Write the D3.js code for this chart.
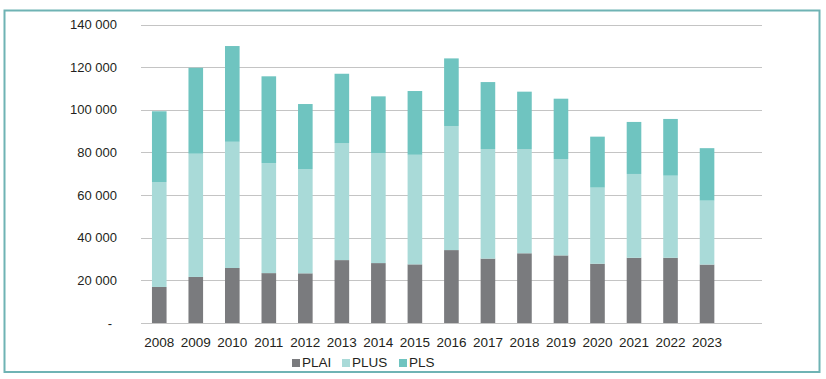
<!DOCTYPE html>
<html><head><meta charset="utf-8">
<script src="https://cdn.jsdelivr.net/npm/d3@7"></script>
<style>html,body{margin:0;padding:0;background:#fff;}svg{display:block;}</style>
</head><body>
<svg id="c" width="826" height="379"></svg>
<script>
const years = ["2008","2009","2010","2011","2012","2013","2014","2015","2016","2017","2018","2019","2020","2021","2022","2023"];
const plai = [16900,21600,25800,23400,23300,29500,28100,27500,34200,30200,32700,31700,27800,30600,30600,27400];
const plus = [49200,57800,59200,51600,48900,54900,51600,51400,58200,51400,48900,45200,35700,39300,38500,30000];
const pls  = [33200,40300,44900,40700,30500,32500,26600,29900,31700,31400,26900,28300,23900,24400,26600,24600];
const seriesNames = ["PLAI","PLUS","PLS"];
const colors = ["#7a7b7e","#a9dad8","#6fc4c0"];
const yTicks = [0,20000,40000,60000,80000,100000,120000,140000];

const svg = d3.select("#c");
const font = "'Liberation Sans', Arial, sans-serif";

// frame
svg.append("rect").attr("x",4.5).attr("y",10.5).attr("width",815).attr("height",361.5)
  .attr("fill","none").attr("stroke","#6fb3b4").attr("stroke-width",2);

const x = d3.scaleBand().domain(years).range([141,725.3]).paddingInner(0.6).paddingOuter(0.3);
const y = d3.scaleLinear().domain([0,140000]).range([323,24.5]);

// gridlines
svg.append("g").selectAll("line").data(yTicks).join("line")
  .attr("x1",141).attr("x2",762)
  .attr("y1",d=>Math.round(y(d))+0.5).attr("y2",d=>Math.round(y(d))+0.5)
  .attr("stroke","#c4c4c4").attr("stroke-width",1);

// y labels
const fmt = d => d===0 ? "-" : d3.format(",")(d).replace(/,/g,"\u2009");
svg.append("g").selectAll("text").data(yTicks).join("text")
  .attr("x",d=> d===0 ? 112 : 117).attr("y",d=>y(d)+4.5)
  .attr("text-anchor","end").attr("font-family",font).attr("font-size",13)
  .attr("fill","#231f20").text(d=>fmt(d).replace("\u2009"," "));

// stacked data
const rows = years.map((yr,i)=>({year:yr, PLAI:plai[i], PLUS:plus[i], PLS:pls[i]}));
const stack = d3.stack().keys(seriesNames)(rows);
svg.append("g").selectAll("g").data(stack).join("g")
  .attr("fill",(d,i)=>colors[i])
  .selectAll("rect").data(d=>d).join("rect")
  .attr("x",d=>x(d.data.year)).attr("width",x.bandwidth())
  .attr("y",d=>y(d[1])).attr("height",d=>y(d[0])-y(d[1]));

// x labels
svg.append("g").selectAll("text").data(years).join("text")
  .attr("x",d=>x(d)+x.bandwidth()/2).attr("y",347)
  .attr("text-anchor","middle").attr("font-family",font).attr("font-size",13.5)
  .attr("fill","#231f20").text(d=>d);

// legend
const legX = [292,342,399];
const lg = svg.append("g");
seriesNames.forEach((n,i)=>{
  lg.append("rect").attr("x",legX[i]).attr("y",359).attr("width",8).attr("height",8).attr("fill",colors[i]);
  lg.append("text").attr("x",legX[i]+10).attr("y",367).attr("font-family",font).attr("font-size",13.5)
    .attr("fill","#231f20").text(n);
});
</script>
</body></html>
